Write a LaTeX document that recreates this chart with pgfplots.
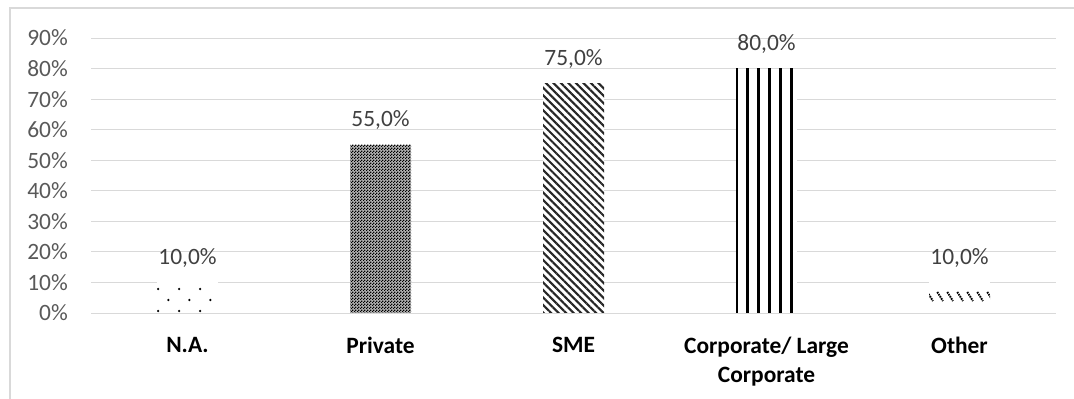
\documentclass[border=0pt]{standalone}
\usepackage{pgfplots}
\pgfplotsset{compat=1.18}
\usepackage{fontspec}
\setmainfont{Carlito}
\usetikzlibrary{patterns,patterns.meta}
\definecolor{gridc}{HTML}{D9D9D9}
\definecolor{tickc}{HTML}{595959}
\definecolor{valc}{HTML}{404040}

\tikzdeclarepattern{name=nadots, type=uncolored,
  bottom left={(0bp,0bp)}, top right={(21.4bp,399bp)}, tile size={(21.4bp,399bp)},
  code={\fill (9.4bp,111bp) circle (1.3bp); \fill (9.4bp,89bp) circle (1.3bp); \fill (19.9bp,100bp) circle (1.3bp);}}
\tikzdeclarepattern{name=checker, type=uncolored,
  bottom left={(0bp,0bp)}, top right={(3bp,3bp)}, tile size={(3bp,3bp)},
  code={\fill (0bp,0bp) rectangle (1.5bp,1.5bp); \fill (1.5bp,1.5bp) rectangle (3bp,3bp);}}
\tikzdeclarepattern{name=vlines, type=uncolored,
  bottom left={(0bp,0bp)}, top right={(10.6bp,399bp)}, tile size={(10.6bp,399bp)},
  code={\fill (4.3bp,0bp) rectangle (7.0bp,399bp);}}
\tikzdeclarepattern{name=otherdash, type=uncolored,
  bottom left={(0bp,0bp)}, top right={(10.4bp,399bp)}, tile size={(10.4bp,399bp)},
  code={\draw[line width=2bp, dash pattern=on 1.6bp off 0.9bp] (2.4bp,108bp) -- (8.4bp,99bp);}}

\pgfplotstableread{
x y
0 10
}\tna
\pgfplotstableread{
x y
1 55
}\tpriv
\pgfplotstableread{
x y
2 75
}\tsme
\pgfplotstableread{
x y
3 80
}\tcorp
\pgfplotstableread{
x y
4 10
}\tother

\begin{document}
\begin{tikzpicture}
\useasboundingbox (0,0) rectangle (1074bp,399bp);
\draw[gridc, line width=1.5bp] (10bp,0bp) -- (10bp,391bp) -- (1074bp,391bp);
\begin{axis}[
  at={(91bp,86bp)}, anchor=south west,
  scale only axis, width=965bp, height=275bp,
  xmin=-0.5, xmax=4.5, ymin=0, ymax=90,
  /pgf/number format/assume math mode=true,
  ytick={0,10,...,90},
  yticklabel={\pgfmathprintnumber{\tick}\%},
  xtick={0,1,2,3,4},
  xticklabels={N.A., Private, SME, {Corporate/ Large\\Corporate}, Other},
  ymajorgrids, grid style={gridc, line width=1bp},
  axis line style={draw=none},
  major tick length=0pt, tick style={draw=none},
  yticklabel style={font=\fontsize{23.5}{28}\selectfont, text=tickc, anchor=east, inner sep=0pt, xshift=-23bp},
  xticklabel style={font=\bfseries\fontsize{23.5}{28.7}\selectfont, text=black, align=center, anchor=north, inner sep=0pt, yshift=-24bp},
  ybar, bar width=61bp,
  nodes near coords={\pgfmathprintnumber[fixed,fixed zerofill,precision=1,use comma]{\pgfplotspointmeta}\%},
  nodes near coords style={font=\fontsize{23.5}{28}\selectfont, text=valc, anchor=base, inner sep=0pt, yshift=18bp},
  clip=false,
]
\addplot[bar shift=0pt, draw=none, preaction={fill=white}, pattern=nadots, pattern color=black] table[x=x,y=y] {\tna};
\addplot[bar shift=0pt, draw=none, preaction={fill=gray!60}, pattern=checker, pattern color=black] table[x=x,y=y] {\tpriv};
\addplot[bar shift=0pt, draw=none, preaction={fill=white}, pattern={Lines[angle=-45,distance=5.3bp,line width=2.1bp]}, pattern color=black!85] table[x=x,y=y] {\tsme};
\addplot[bar shift=0pt, draw=none, preaction={fill=white}, pattern=vlines, pattern color=black] table[x=x,y=y] {\tcorp};
\addplot[bar shift=0pt, draw=none, preaction={fill=white}, pattern=otherdash, pattern color=black] table[x=x,y=y] {\tother};
\draw[gridc, line width=1bp] (axis cs:-0.5,0) -- (axis cs:4.5,0);
\end{axis}
\end{tikzpicture}
\end{document}
